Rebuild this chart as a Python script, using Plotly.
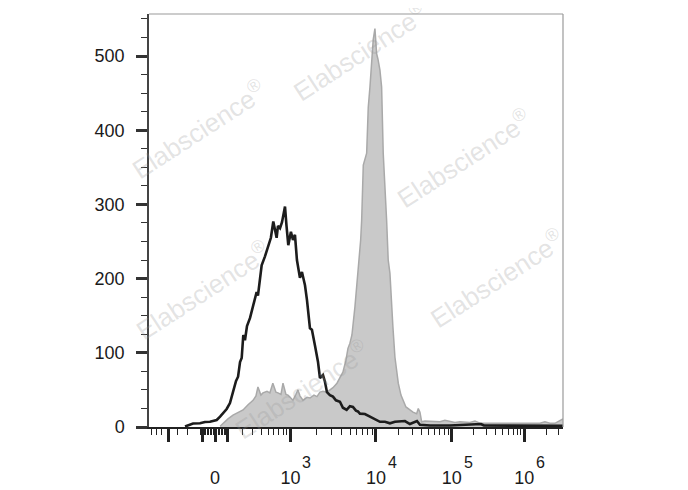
import numpy as np
import plotly.graph_objects as go

# ---------------------------------------------------------------- Data
# Fluorescence intensity (x) and event counts (y).
STAINED_X = [33, 52, 86, 122, 161, 203, 249, 301, 334, 358, 396, 424, 484, 530,
             583, 642, 684, 750, 798, 873, 928, 1013, 1070, 1159, 1224, 1291,
             1401, 1561, 1691, 1884, 2043, 2213, 2400, 2673, 2897, 3141, 3500,
             3790, 4108, 4456, 4706, 4962, 5236, 5677, 6155, 6625, 6808, 7109,
             7787, 8128, 8505, 9290, 9730, 10210, 10620, 11290, 11880, 12480,
             13830, 14520, 15310, 16100, 16750, 17820, 19720, 21400, 22950,
             24900, 28110, 30830, 34500, 36240, 38130, 40180, 44390, 51680,
             60140, 69990, 81460, 95020, 111000, 130000, 152300, 178600,
             209300, 245300, 337100, 462500, 635000, 872400, 1197000, 1644000,
             1926000, 2257000, 2646000, 2912000, 3200000, 3410000]
STAINED_Y = [1, 5, 11, 16, 20, 23, 30, 36, 42, 54, 43, 46, 48, 46,
             59, 47, 46, 44, 59, 44, 43, 39, 36, 44, 50, 42,
             36, 40, 39, 43, 41, 47, 48, 47, 50, 53, 59,
             66, 74, 90, 106, 113, 124, 162, 205, 252, 279, 353,
             369, 431, 458, 522, 537, 503, 496, 481, 458, 369,
             279, 225, 207, 158, 135, 94, 59, 43, 36,
             27, 23, 20, 18, 25, 20, 7, 8, 8,
             7, 7, 9, 7, 6, 7, 6, 6,
             8, 5, 5, 5, 5, 5, 5, 5,
             7, 5, 5, 7, 9, 11]

CONTROL_X = [-220, -152, -100, -66, -33, 11, 33, 52, 77, 100, 124, 145, 161,
             177, 191, 205, 220, 239, 269, 301, 342, 358, 406, 453, 504, 548,
             591, 623, 656, 684, 728, 774, 848, 886, 937, 1013, 1070, 1129,
             1191, 1291, 1363, 1479, 1561, 1691, 1783, 1935, 2098, 2213, 2400,
             2533, 2673, 2897, 3141, 3404, 3790, 4108, 4542, 4962, 5380, 5833,
             6155, 6496, 7432, 8505, 9730, 11290, 13150, 15310, 17820, 20740,
             24150, 28110, 34820, 38130, 51680, 95020, 253300, 278300, 872400,
             3410000]
CONTROL_Y = [0.7, 4.7, 5, 6.7, 7.1, 9.4, 13.9, 18.9, 24.3, 32.3, 49.9, 62, 67.8,
             87.6, 93, 124, 117, 136, 147, 164, 182, 177, 218, 230, 245, 255,
             277, 265, 255, 271, 268, 276, 297, 272, 245, 263, 252, 259,
             225, 201, 209, 191, 171, 133, 131, 110, 88, 66, 70,
             61, 47, 43, 41, 36, 34, 26, 23, 28, 27, 22,
             21, 18, 17.5, 14, 11, 7, 7, 5, 7, 7,
             8, 4, 8, 3, 2, 2, 4, 2, 1.6,
             1.6]

Y_TICKS = [0, 100, 200, 300, 400, 500]
X_MAJOR = [-400, -80, 0, 80, 1e3, 1e4, 1e5, 1e6]
X_MAJOR_TEXT = ["", "", "0", "", "10", "10", "10", "10"]
X_EXPONENTS = [(1e3, "3"), (1e4, "4"), (1e5, "5"), (1e6, "6")]
X_MINOR = ([-700, -600, -500, -300, -200, -100]
           + list(range(-70, 80, 10))
           + [m * 10 ** e for e in (2, 3, 4, 5) for m in range(2, 10)]
           + [2e6, 3e6])

WATERMARK = "Elabscience<sup>®</sup>"
WM_POS = [(0.12, 0.72), (0.51, 0.91), (0.76, 0.65),
          (0.13, 0.33), (0.84, 0.36), (0.37, 0.09)]

# ---------------------------------------------------------------- Scale
# Biexponential-like display: arcsinh near zero, log decades above 10^3.
C, K = 220.0, 34.0
T3 = K * np.arcsinh(1000 / C)
DEC_W = [85.5, 75.7, 72.6, 72.6]


def biex(v):
    v = np.asarray(v, dtype=float)
    low = K * np.arcsinh(v / C)
    knots = np.concatenate([[T3], T3 + np.cumsum(DEC_W)])
    high = np.interp(np.log10(np.clip(v, 1000, None)), [3, 4, 5, 6, 7], knots)
    return np.where(v > 1000, high, low)


FONT = "Arial, Liberation Sans, sans-serif"

fig = go.Figure()
fig.add_trace(go.Scatter(
    x=biex(STAINED_X), y=STAINED_Y, mode="lines",
    fill="tozeroy", fillcolor="#c9c9c9",
    line=dict(color="#a9a9a9", width=1.5),
    showlegend=False, hoverinfo="skip",
))
fig.add_trace(go.Scatter(
    x=biex(CONTROL_X), y=CONTROL_Y, mode="lines",
    line=dict(color="#1c1c1c", width=2.6),
    showlegend=False, hoverinfo="skip",
))

for px, py in WM_POS:
    fig.add_annotation(
        x=px, y=py, xref="paper", yref="paper", text=WATERMARK,
        xanchor="center", yanchor="middle",
        showarrow=False, textangle=-33,
        font=dict(family=FONT, size=26, color="rgba(150,150,150,0.27)"),
    )

# raised decade exponents next to the "10" tick labels
for val, exp in X_EXPONENTS:
    fig.add_annotation(
        x=float(biex(val)), y=-0.086, xref="x", yref="paper", text=exp,
        xanchor="left", yanchor="middle", xshift=10, showarrow=False,
        font=dict(family=FONT, size=16, color="#1a1a1a"),
    )

# top and right frame in light gray
fig.add_shape(type="line", xref="paper", yref="paper", x0=0, x1=1, y0=1, y1=1,
              line=dict(color="#9a9a9a", width=1.2))
fig.add_shape(type="line", xref="paper", yref="paper", x0=1, x1=1, y0=0, y1=1,
              line=dict(color="#9a9a9a", width=1.2))

fig.update_xaxes(
    range=[-66, 348], tickmode="array",
    tickvals=biex(X_MAJOR), ticktext=X_MAJOR_TEXT,
    ticks="outside", ticklen=13, tickwidth=3, tickcolor="#222",
    ticklabelstandoff=20, automargin=False,
    minor=dict(tickmode="array", tickvals=biex(X_MINOR), ticks="outside",
               ticklen=6, tickwidth=1.3, tickcolor="#222"),
    showline=True, linecolor="#222", linewidth=2,
    showgrid=False, zeroline=False,
    tickfont=dict(family=FONT, size=18, color="#1a1a1a"),
)
fig.update_yaxes(
    range=[0, 556.6], tickmode="array", tickvals=Y_TICKS,
    ticks="outside", ticklen=11, tickwidth=2.6, tickcolor="#333",
    ticklabelstandoff=8, automargin=False,
    minor=dict(dtick=25, ticks="outside", ticklen=6, tickwidth=1.2,
               tickcolor="#333"),
    showline=True, linecolor="#444", linewidth=1.5,
    showgrid=False, zeroline=False,
    tickfont=dict(family=FONT, size=18, color="#1a1a1a"),
)

# the page body adds an 8px offset, so margins are shifted to compensate
fig.update_layout(
    width=688, height=490,
    margin=dict(l=141, r=133, t=6, b=71),
    paper_bgcolor="white", plot_bgcolor="white",
)

fig.write_html("out.html")
